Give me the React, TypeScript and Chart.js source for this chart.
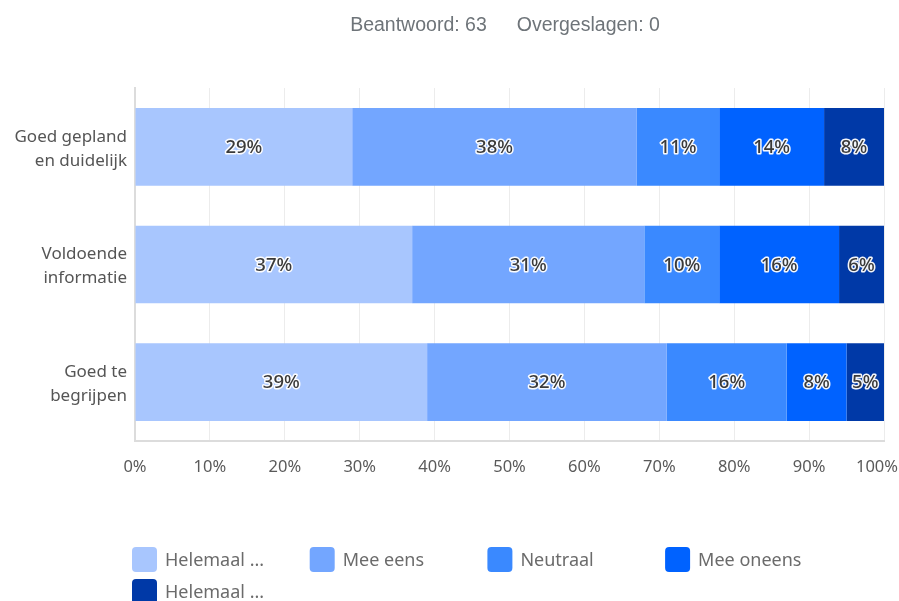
import React, { useEffect, useRef } from "react";
import { Chart, registerables } from "chart.js";

Chart.register(...registerables);

const categories: string[][] = [
  ["Goed gepland", "en duidelijk"],
  ["Voldoende", "informatie"],
  ["Goed te", "begrijpen"],
];

const seriesNames = ["Helemaal eens", "Mee eens", "Neutraal", "Mee oneens", "Helemaal oneens"];
const legendLabels = ["Helemaal ...", "Mee eens", "Neutraal", "Mee oneens", "Helemaal ..."];
const seriesColors = ["#a8c6fe", "#73a6ff", "#3a89ff", "#0062ff", "#0039a7"];

const helemaalEens = [29, 37, 39];
const meeEens = [38, 31, 32];
const neutraal = [11, 10, 16];
const meeOneens = [14, 16, 8];
const helemaalOneens = [8, 6, 5];

const seriesValues = [helemaalEens, meeEens, neutraal, meeOneens, helemaalOneens];

const titleLeft = "Beantwoord: 63";
const titleRight = "Overgeslagen: 0";

const FONT = "'Noto Sans', 'Open Sans', sans-serif";

export default function App() {
  const ref = useRef<HTMLCanvasElement | null>(null);

  useEffect(() => {
    document.body.style.margin = "0";
    const canvas = ref.current;
    if (!canvas) return;

    const overlay = {
      id: "overlay",
      afterDatasetsDraw(chart: any) {
        const ctx = chart.ctx as CanvasRenderingContext2D;
        ctx.save();
        ctx.font = `500 18.5px ${FONT}`;
        ctx.textAlign = "center";
        ctx.textBaseline = "middle";
        ctx.lineJoin = "round";
        chart.data.datasets.forEach((ds: any, di: number) => {
          const meta = chart.getDatasetMeta(di);
          meta.data.forEach((el: any, i: number) => {
            const v = ds.data[i];
            const cx = (el.x + el.base) / 2;
            const cy = el.y + 1;
            const t = `${v}%`;
            ctx.strokeStyle = "rgba(255,255,255,0.95)";
            ctx.lineWidth = 3;
            ctx.strokeText(t, cx, cy);
            ctx.fillStyle = "#3a3a3a";
            ctx.fillText(t, cx, cy);
          });
        });
        ctx.restore();
      },
      afterDraw(chart: any) {
        const ctx = chart.ctx as CanvasRenderingContext2D;
        ctx.save();
        // x tick labels (kept inside the canvas)
        const xs = chart.scales.x;
        ctx.font = `16.5px ${FONT}`;
        ctx.fillStyle = "#5a5a5a";
        ctx.textBaseline = "middle";
        ctx.textAlign = "center";
        xs.ticks.forEach((tk: any, i: number) => {
          const label = `${tk.value}%`;
          const w = ctx.measureText(label).width;
          let px = xs.getPixelForTick(i);
          const maxRight = chart.width - 1;
          if (px + w / 2 > maxRight) px = maxRight - w / 2;
          ctx.fillText(label, px, xs.top + 26);
        });

        // title
        ctx.font = `19.5px 'Liberation Sans', Arial, sans-serif`;
        ctx.fillStyle = "#6e7479";
        ctx.textBaseline = "middle";
        const gap = 30;
        const w1 = ctx.measureText(titleLeft).width;
        const w2 = ctx.measureText(titleRight).width;
        const total = w1 + gap + w2;
        const startX = 505 - total / 2;
        ctx.textAlign = "left";
        ctx.fillText(titleLeft, startX, 26);
        ctx.fillText(titleRight, startX + w1 + gap, 26);

        // legend
        ctx.font = `18px ${FONT}`;
        const colStep = 177.7;
        const x0 = 132;
        const rowTops = [547, 579];
        legendLabels.forEach((lbl, i) => {
          const col = i % 4;
          const row = Math.floor(i / 4);
          const bx = x0 + col * colStep;
          const by = rowTops[row];
          ctx.fillStyle = seriesColors[i];
          ctx.beginPath();
          (ctx as any).roundRect(bx, by, 25, 25, 4);
          ctx.fill();
          ctx.fillStyle = "#6b6b6b";
          ctx.textAlign = "left";
          ctx.fillText(lbl, bx + 33, by + 14);
        });
        ctx.restore();
      },
    };

    const chart = new Chart(canvas, {
      type: "bar",
      data: {
        labels: categories,
        datasets: seriesValues.map((vals, i) => ({
          label: seriesNames[i],
          data: vals,
          backgroundColor: seriesColors[i],
          borderWidth: 0,
          categoryPercentage: 1,
          barPercentage: 0.66,
        })),
      },
      options: {
        animation: false,
        responsive: false,
        indexAxis: "y",
        layout: { padding: { top: 88, right: 15, left: 0, bottom: 0 } },
        plugins: {
          legend: { display: false },
          tooltip: { enabled: false },
          title: { display: false },
        },
        scales: {
          x: {
            stacked: true,
            min: 0,
            max: 100,
            ticks: {
              stepSize: 10,
              callback: (v: any) => `${v}%`,
              color: "rgba(0,0,0,0)",
              font: { family: FONT, size: 16.5 },
              padding: 15,
              maxRotation: 0,
            },
            grid: { color: "#ececec", drawTicks: false, lineWidth: 1 },
            border: { display: true, color: "#dcdcdc", width: 2 },
            afterFit: (scale: any) => {
              scale.height = 160;
              scale.paddingLeft = 0;
              scale.paddingRight = 0;
            },
          },
          y: {
            stacked: true,
            ticks: {
              color: "#555555",
              font: { family: FONT, size: 17, lineHeight: 1.42 },
              padding: 8,
              labelOffset: 2,
            },
            grid: { display: false, drawTicks: false },
            border: { display: true, color: "#dcdcdc", width: 2 },
            afterFit: (scale: any) => {
              scale.width = 135;
            },
          },
        },
      } as any,
      plugins: [overlay],
    });

    return () => chart.destroy();
  }, []);

  return (
    <div style={{ width: 899, height: 601, position: "relative" }}>
      <canvas ref={ref} width={899} height={601} style={{ width: 899, height: 601, display: "block" }} />
    </div>
  );
}
